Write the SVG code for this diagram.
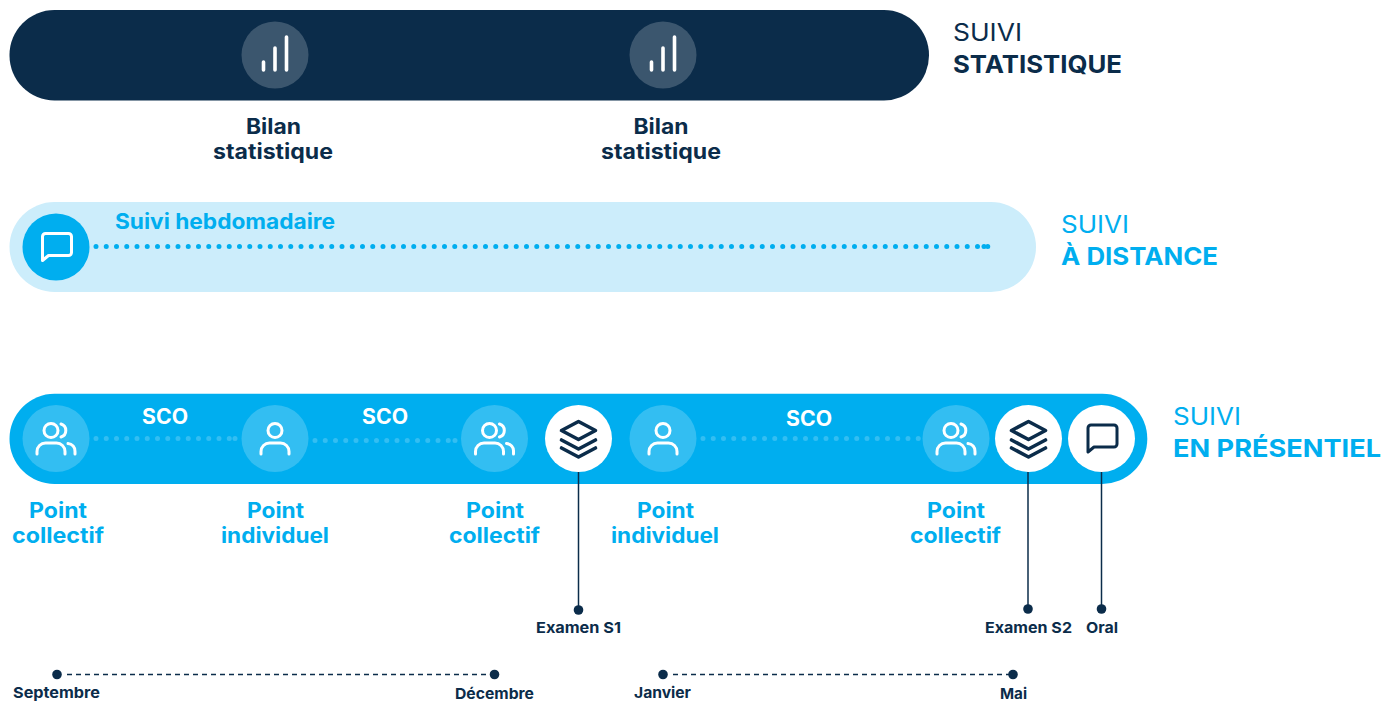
<svg xmlns="http://www.w3.org/2000/svg" width="1382" height="701" viewBox="0 0 1382 701">
<style>
text{font-family:"Inter","Liberation Sans",sans-serif;font-weight:700;letter-spacing:0}
.navy{fill:#0b2c4a}.sky{fill:#00aeef}.white{fill:#fff}
.h{font-size:24px}.l{font-weight:400}
.m{font-size:21px}.s{font-size:15px}
.ic{fill:none;stroke:#fff;stroke-width:3;stroke-linecap:round;stroke-linejoin:round}
.bars{stroke-width:3.6}
.dk{stroke:#0b2c4a;stroke-width:3.6}
.soft{fill:#fff;fill-opacity:.2}
.lead{stroke:#0b2c4a;stroke-width:1.5;fill:none}
.dash{stroke:#0b2c4a;stroke-width:1.3;stroke-dasharray:5 4;fill:none}
.dots{stroke-width:5;stroke-linecap:round;stroke-dasharray:0 10.25;fill:none}
</style>
<defs>
<g id="i-stat"><path class="ic bars" d="M-11.5,15V7M0,15V-7M11.5,15V-18"/></g>
<g id="i-chat"><path d="M-13.5,13.5V-10.5a3,3 0 0 1 3,-3H12.5a3,3 0 0 1 3,3V5.5a3,3 0 0 1 -3,3H-7.5Z"/></g>
<g id="i-person"><circle class="ic" cx="0" cy="-8" r="7"/><path class="ic" d="M-14,15.5V13a8.5,8.5 0 0 1 8.5,-8.5H5.5A8.5,8.5 0 0 1 14,13V15.5"/></g>
<g id="i-group"><circle class="ic" cx="-5" cy="-8" r="7"/><path class="ic" d="M5,-14.5A6.8,6.8 0 0 1 5,-1.5M-19,15.5V13a8.5,8.5 0 0 1 8.5,-8.5H.5A8.5,8.5 0 0 1 9,13V15.5M12,5a7.5,7.500 0 0 1 7,8V15.5"/></g>
<g id="i-stack"><path class="ic dk" d="M0,-17L17,-8L0,1L-17,-8ZM-17,1.5L0,10.5L17,1.5M-17,9.5L0,18.5L17,9.5"/></g>
</defs>

<g id="suivi-statistique">
<rect class="navy" x="9.5" y="10" width="919.500" height="90.500" rx="45" ry="45"/>
<text class="navy h l" x="953" y="41" textLength="69" lengthAdjust="spacingAndGlyphs">SUIVI</text>
<text class="navy h" x="953" y="73" textLength="169" lengthAdjust="spacingAndGlyphs">STATISTIQUE</text>
</g>
<g id="bilan-1">
<circle class="soft" cx="275" cy="55" r="33.500"/>
<use href="#i-stat" x="275" y="55"/>
<text class="navy m" x="246" y="134" textLength="55" lengthAdjust="spacingAndGlyphs">Bilan</text>
<text class="navy m" x="213" y="159" textLength="120" lengthAdjust="spacingAndGlyphs">statistique</text>
</g>
<g id="bilan-2">
<circle class="soft" cx="663" cy="55" r="33.500"/>
<use href="#i-stat" x="663" y="55"/>
<text class="navy m" x="633.500" y="134" textLength="55" lengthAdjust="spacingAndGlyphs">Bilan</text>
<text class="navy m" x="601" y="159" textLength="120" lengthAdjust="spacingAndGlyphs">statistique</text>
</g>

<g id="suivi-distance">
<rect x="9.5" y="202" width="1026.500" height="90" rx="45" ry="45" fill="#ccedfb"/>
<text class="sky h l" x="1061" y="233" textLength="68" lengthAdjust="spacingAndGlyphs">SUIVI</text>
<text class="sky h" x="1061" y="265" textLength="157" lengthAdjust="spacingAndGlyphs">À DISTANCE</text>
</g>
<g id="suivi-hebdomadaire">
<circle class="sky" cx="56" cy="247" r="33.500"/>
<use href="#i-chat" x="56" y="247" fill="none" stroke="#fff" stroke-width="3" stroke-linejoin="round"/>
<text class="sky m" x="115" y="229" textLength="220" lengthAdjust="spacingAndGlyphs">Suivi hebdomadaire</text>
</g>

<g id="suivi-presentiel">
<rect class="sky" x="9.5" y="393.700" width="1137.800" height="90.300" rx="45" ry="45"/>
<text class="sky h l" x="1173" y="425" textLength="68" lengthAdjust="spacingAndGlyphs">SUIVI</text>
<text class="sky h" x="1173" y="457" textLength="208" lengthAdjust="spacingAndGlyphs">EN PRÉSENTIEL</text>
<text class="white m" x="142" y="424" textLength="46" lengthAdjust="spacingAndGlyphs">SCO</text>
<text class="white m" x="362" y="424" textLength="46" lengthAdjust="spacingAndGlyphs">SCO</text>
<text class="white m" x="786" y="426" textLength="46" lengthAdjust="spacingAndGlyphs">SCO</text>
</g>

<g id="connecteurs">
<line class="dots" x1="96" y1="246.500" x2="988" y2="246.500" stroke="#00aeef"/>
<line class="dots" x1="984" y1="246.500" x2="988" y2="246.500" stroke="#00aeef" stroke-dasharray="none"/>
<line class="dots" x1="96" y1="438.500" x2="235" y2="438.500" stroke="#33bef2"/>
<line class="dots" x1="235" y1="438.500" x2="235" y2="438.500" stroke="#33bef2" stroke-dasharray="none"/>
<line class="dots" x1="315" y1="440.500" x2="455" y2="440.500" stroke="#33bef2"/>
<line class="dots" x1="455" y1="440.500" x2="455" y2="440.500" stroke="#33bef2" stroke-dasharray="none"/>
<line class="dots" x1="703" y1="438.500" x2="919" y2="438.500" stroke="#33bef2"/>
<line class="lead" x1="578.500" y1="472" x2="578.500" y2="610"/>
<line class="lead" x1="1028" y1="472" x2="1028" y2="609"/>
<line class="lead" x1="1101.500" y1="472" x2="1101.500" y2="609"/>
<line class="dash" x1="67" y1="674.500" x2="490" y2="674.500"/>
<line class="dash" x1="673" y1="674.500" x2="1009" y2="674.500"/>
<circle class="navy" cx="578.500" cy="610" r="4.800"/>
<circle class="navy" cx="1028" cy="609" r="4.800"/>
<circle class="navy" cx="1101.500" cy="609" r="4.800"/>
<circle class="navy" cx="57" cy="674.500" r="4.800"/>
<circle class="navy" cx="494.500" cy="674.500" r="4.800"/>
<circle class="navy" cx="663" cy="674.500" r="4.800"/>
<circle class="navy" cx="1013" cy="674.500" r="4.800"/>
</g>

<g id="point-1">
<circle class="soft" cx="56" cy="438.500" r="33.500"/><use href="#i-group" x="56" y="438.500"/>
<text class="sky m" x="29" y="518" textLength="58" lengthAdjust="spacingAndGlyphs">Point</text>
<text class="sky m" x="12" y="543" textLength="92" lengthAdjust="spacingAndGlyphs">collectif</text>
</g>
<g id="point-2">
<circle class="soft" cx="275" cy="438.500" r="33.500"/><use href="#i-person" x="275" y="438.500"/>
<text class="sky m" x="247" y="518" textLength="57" lengthAdjust="spacingAndGlyphs">Point</text>
<text class="sky m" x="221" y="543" textLength="108" lengthAdjust="spacingAndGlyphs">individuel</text>
</g>
<g id="point-3">
<circle class="soft" cx="494.500" cy="438.500" r="33.500"/><use href="#i-group" x="494.500" y="438.500"/>
<text class="sky m" x="466" y="518" textLength="58" lengthAdjust="spacingAndGlyphs">Point</text>
<text class="sky m" x="449" y="543" textLength="91" lengthAdjust="spacingAndGlyphs">collectif</text>
</g>
<g id="examen-s1">
<circle class="white" cx="578.500" cy="438.500" r="33.500"/><use href="#i-stack" x="578.500" y="438.500"/>
<text class="navy s" x="536" y="633" textLength="85" lengthAdjust="spacingAndGlyphs">Examen S1</text>
</g>
<g id="point-4">
<circle class="soft" cx="663" cy="438.500" r="33.500"/><use href="#i-person" x="663" y="438.500"/>
<text class="sky m" x="637" y="518" textLength="57" lengthAdjust="spacingAndGlyphs">Point</text>
<text class="sky m" x="611" y="543" textLength="108" lengthAdjust="spacingAndGlyphs">individuel</text>
</g>
<g id="point-5">
<circle class="soft" cx="956" cy="438.500" r="33.500"/><use href="#i-group" x="956" y="438.500"/>
<text class="sky m" x="927" y="518" textLength="58" lengthAdjust="spacingAndGlyphs">Point</text>
<text class="sky m" x="910" y="543" textLength="91" lengthAdjust="spacingAndGlyphs">collectif</text>
</g>
<g id="examen-s2">
<circle class="white" cx="1028.500" cy="438.500" r="33.500"/><use href="#i-stack" x="1028.500" y="438.500"/>
<text class="navy s" x="985" y="633" textLength="87" lengthAdjust="spacingAndGlyphs">Examen S2</text>
</g>
<g id="oral">
<circle class="white" cx="1101.500" cy="438.500" r="33.500"/><use href="#i-chat" x="1101.500" y="438.500" fill="none" stroke="#0b2c4a" stroke-width="3" stroke-linejoin="round"/>
<text class="navy s" x="1086" y="633" textLength="32" lengthAdjust="spacingAndGlyphs">Oral</text>
</g>
<g id="mois">
<text class="navy s" x="13" y="698" textLength="87" lengthAdjust="spacingAndGlyphs">Septembre</text>
<text class="navy s" x="455" y="699" textLength="79" lengthAdjust="spacingAndGlyphs">Décembre</text>
<text class="navy s" x="634" y="698" textLength="57" lengthAdjust="spacingAndGlyphs">Janvier</text>
<text class="navy s" x="1000" y="699" textLength="27" lengthAdjust="spacingAndGlyphs">Mai</text>
</g>
</svg>
